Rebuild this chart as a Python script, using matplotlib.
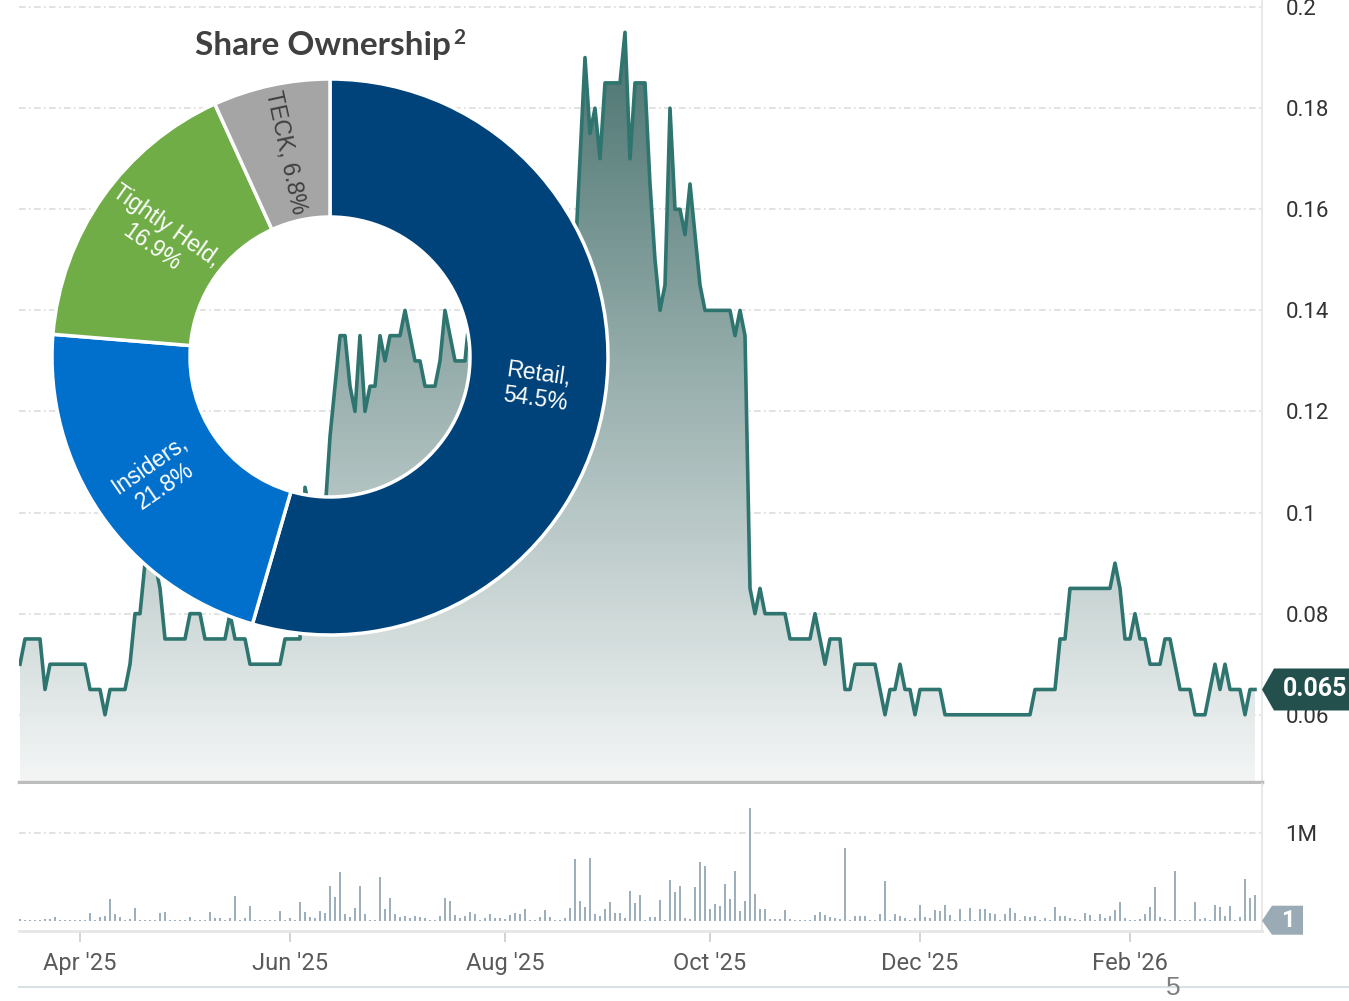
import numpy as np
import pandas as pd
import matplotlib
matplotlib.use("Agg")
import matplotlib.pyplot as plt
from matplotlib.colors import LinearSegmentedColormap
from matplotlib.patches import Polygon
from matplotlib.lines import Line2D
from matplotlib.transforms import IdentityTransform

# --- data -------------------------------------------------------------
# TSX trading days, Mar 14 2025 .. Mar 10 2026
tsx_holidays = ["2025-04-18", "2025-05-19", "2025-07-01", "2025-08-04",
                "2025-09-01", "2025-10-13", "2025-12-25", "2025-12-26",
                "2026-01-01", "2026-02-16"]
start_date = "2025-03-14"
end_date = "2026-03-10"

# daily close (C$)
price = [
    0.07, 0.075, 0.075, 0.075, 0.075, 0.065, 0.07, 0.07, 0.07, 0.07,
    0.07, 0.07, 0.07, 0.07, 0.065, 0.065, 0.065, 0.06, 0.065, 0.065,
    0.065, 0.065, 0.07, 0.08, 0.08, 0.09, 0.095, 0.09, 0.085, 0.075,
    0.075, 0.075, 0.075, 0.075, 0.08, 0.08, 0.08, 0.075, 0.075, 0.075,
    0.075, 0.075, 0.08, 0.075, 0.075, 0.075, 0.07, 0.07, 0.07, 0.07,
    0.07, 0.07, 0.07, 0.075, 0.075, 0.075, 0.075, 0.105, 0.1, 0.1,
    0.1, 0.1, 0.115, 0.125, 0.135, 0.135, 0.125, 0.12, 0.135, 0.12,
    0.125, 0.125, 0.135, 0.13, 0.135, 0.135, 0.135, 0.14, 0.135, 0.13,
    0.13, 0.125, 0.125, 0.125, 0.13, 0.14, 0.135, 0.13, 0.13, 0.13,
    0.14, 0.14, 0.135, 0.135, 0.13, 0.13, 0.13, 0.125, 0.125, 0.13,
    0.13, 0.135, 0.13, 0.13, 0.125, 0.125, 0.13, 0.13, 0.125, 0.125,
    0.13, 0.15, 0.17, 0.19, 0.175, 0.18, 0.17, 0.185, 0.185, 0.185,
    0.185, 0.195, 0.17, 0.185, 0.185, 0.185, 0.165, 0.15, 0.14, 0.145,
    0.18, 0.16, 0.16, 0.155, 0.165, 0.155, 0.145, 0.14, 0.14, 0.14,
    0.14, 0.14, 0.14, 0.135, 0.14, 0.135, 0.085, 0.08, 0.085, 0.08,
    0.08, 0.08, 0.08, 0.08, 0.075, 0.075, 0.075, 0.075, 0.075, 0.08,
    0.075, 0.07, 0.075, 0.075, 0.075, 0.065, 0.065, 0.07, 0.07, 0.07,
    0.07, 0.07, 0.065, 0.06, 0.065, 0.065, 0.07, 0.065, 0.065, 0.06,
    0.065, 0.065, 0.065, 0.065, 0.065, 0.06, 0.06, 0.06, 0.06, 0.06,
    0.06, 0.06, 0.06, 0.06, 0.06, 0.06, 0.06, 0.06, 0.06, 0.06,
    0.06, 0.06, 0.06, 0.065, 0.065, 0.065, 0.065, 0.065, 0.075, 0.075,
    0.085, 0.085, 0.085, 0.085, 0.085, 0.085, 0.085, 0.085, 0.085, 0.09,
    0.085, 0.075, 0.075, 0.08, 0.075, 0.075, 0.07, 0.07, 0.07, 0.075,
    0.075, 0.07, 0.065, 0.065, 0.065, 0.06, 0.06, 0.06, 0.065, 0.07,
    0.065, 0.07, 0.065, 0.065, 0.065, 0.06, 0.065, 0.065,
]

# daily volume (thousand shares)
volume_k = [
    25, 12, 5, 5, 8, 15, 25, 45, 5, 5,
    5, 5, 5, 5, 83, 5, 38, 53, 242, 76,
    45, 12, 25, 140, 5, 10, 8, 5, 91, 102,
    5, 5, 5, 5, 45, 5, 5, 5, 95, 34,
    34, 5, 26, 280, 5, 26, 167, 5, 5, 5,
    5, 5, 114, 5, 26, 5, 216, 102, 45, 34,
    114, 91, 398, 273, 549, 72, 45, 140, 394, 76,
    5, 5, 500, 129, 261, 76, 45, 53, 26, 57,
    45, 26, 10, 10, 53, 254, 223, 64, 34, 53,
    95, 72, 8, 26, 76, 34, 26, 15, 64, 91,
    72, 133, 5, 5, 45, 121, 45, 5, 5, 26,
    140, 697, 223, 159, 716, 72, 57, 129, 216, 91,
    91, 26, 337, 205, 288, 5, 45, 45, 235, 8,
    462, 322, 394, 26, 19, 379, 670, 621, 129, 189,
    167, 417, 242, 564, 110, 223, 1277, 299, 133, 136,
    15, 15, 15, 121, 19, 5, 5, 5, 5, 64,
    102, 64, 45, 34, 19, 822, 8, 57, 57, 53,
    5, 5, 72, 455, 8, 72, 57, 26, 8, 34,
    178, 45, 26, 121, 110, 178, 64, 8, 129, 5,
    148, 5, 129, 129, 91, 76, 5, 72, 140, 91,
    5, 53, 45, 57, 5, 26, 5, 159, 57, 57,
    34, 15, 5, 83, 64, 5, 76, 26, 53, 121,
    216, 26, 5, 5, 15, 72, 159, 379, 45, 15,
    5, 564, 8, 5, 5, 216, 15, 34, 5, 178,
    152, 53, 170, 5, 38, 473, 254, 292,
]

owners = ["Retail", "Insiders", "Tightly Held", "TECK"]
shares = [54.5, 21.8, 16.9, 6.8]
owner_colors = ["#00437A", "#0070CC", "#70AD47", "#A5A5A5"]
owner_text_colors = ["white", "white", "white", "#3F3F3F"]

price_ticks = [0.06, 0.08, 0.1, 0.12, 0.14, 0.16, 0.18, 0.2]
price_tick_labels = ["0.06", "0.08", "0.1", "0.12", "0.14", "0.16", "0.18", "0.2"]
label_months = [4, 6, 8, 10, 12, 2]

# --- figure -----------------------------------------------------------
W, H = 1349, 1001
fig = plt.figure(figsize=(W / 100, H / 100), dpi=100)
plt.rcParams["font.family"] = ["Roboto", "DejaVu Sans"]


def box(x0, y0, x1, y1):
    # pixel box (y measured from the top) -> figure fraction
    return [x0 / W, 1 - y1 / H, (x1 - x0) / W, (y1 - y0) / H]


dates = pd.bdate_range(start_date, end_date, freq="C", holidays=tsx_holidays)
idx = np.arange(len(price))
price = np.array(price)
vol = np.array(volume_k) / 1000.0

ax_p = fig.add_axes(box(19, 0, 1262, 782))
ax_v = fig.add_axes(box(19, 784, 1262, 931))
xlim = (-0.2, 248.4)
ylim_p = (0.0467, 0.2014)

# price area with vertical gradient
cmap = LinearSegmentedColormap.from_list("area", ["#F4F6F6", "#426D69"])
poly = Polygon(np.column_stack([np.r_[idx[0], idx, idx[-1]],
                                np.r_[ylim_p[0], price, ylim_p[0]]]),
               closed=True, fc="none", ec="none")
ax_p.add_patch(poly)
grad = np.linspace(0, 1, 256).reshape(-1, 1)
im = ax_p.imshow(grad, extent=[idx[0], idx[-1], ylim_p[0], ylim_p[1]],
                 origin="lower", aspect="auto", cmap=cmap, zorder=2)
im.set_clip_path(poly)
ax_p.plot(idx, price, color="#2E746F", lw=2.6, solid_joinstyle="round", zorder=3)

ax_p.set_xlim(*xlim)
ax_p.set_ylim(*ylim_p)
ax_p.set_yticks(price_ticks)
ax_p.set_yticklabels(price_tick_labels)
ax_p.yaxis.tick_right()
ax_p.set_xticks([])
ax_p.tick_params(axis="y", length=0, pad=17, labelsize=16, labelcolor="#333333")
ax_p.grid(axis="y", color="#DDDDDD", lw=1.2, linestyle=(0, (4, 2, 1, 2)))
ax_p.set_axisbelow(True)
for s in ["top", "left"]:
    ax_p.spines[s].set_visible(False)
ax_p.spines["right"].set_color("#E6E6E6")
ax_p.spines["right"].set_linewidth(1.3)
ax_p.spines["bottom"].set_color("#BDBDBD")
ax_p.spines["bottom"].set_linewidth(2.5)

# volume
ax_v.bar(idx, vol, width=0.55, color="#9DAFBA", zorder=2)
ax_v.set_xlim(*xlim)
ax_v.set_ylim(-0.117, 1.553)
ax_v.set_yticks([1])
ax_v.set_yticklabels(["1M"])
ax_v.yaxis.tick_right()
month_first = [np.where((dates.month == m))[0][0] for m in label_months]
ax_v.set_xticks(month_first)
ax_v.set_xticklabels([dates[i].strftime("%b '%y") for i in month_first])
ax_v.tick_params(axis="y", length=0, pad=17, labelsize=16, labelcolor="#333333")
ax_v.tick_params(axis="x", length=8, width=1.2, color="#CCCCCC", pad=7,
                 labelsize=17, labelcolor="#5A5A5A")
ax_v.grid(axis="y", color="#DDDDDD", lw=1.2, linestyle=(0, (4, 2, 1, 2)))
ax_v.set_axisbelow(True)
for s in ["top", "left"]:
    ax_v.spines[s].set_visible(False)
for s in ["right", "bottom"]:
    ax_v.spines[s].set_color("#E6E6E6")
ax_v.spines["right"].set_linewidth(1.3)
ax_v.spines["bottom"].set_linewidth(2)

# --- share ownership donut overlay -------------------------------------
ax_d = fig.add_axes([0, 0, 1, 1], facecolor="none")
cx, cy, r_out, ring = 330, H - 357, 278, 138
wedges, _ = ax_d.pie(shares, colors=owner_colors, startangle=90, counterclock=False,
                     radius=r_out, center=(cx, cy),
                     wedgeprops=dict(width=ring, edgecolor="white", linewidth=2.5))
for w, name, val, tc in zip(wedges, owners, shares, owner_text_colors):
    th = (w.theta1 + w.theta2) / 2
    r_lab = r_out - ring / 2
    x = cx + r_lab * np.cos(np.radians(th))
    y = cy + r_lab * np.sin(np.radians(th))
    rot = ((th + 90) % 180) - 90
    if name == "TECK":
        txt = f"{name}, {val}%"
    else:
        txt = f"{name},\n{val}%"
    ax_d.text(x, y, txt, ha="center", va="center", rotation=rot,
              rotation_mode="anchor", fontsize=16.5, color=tc,
              family=["Liberation Sans", "DejaVu Sans"], linespacing=1.15,
              multialignment="center")
ax_d.set_xlim(0, W)
ax_d.set_ylim(0, H)
ax_d.axis("off")

title = fig.text(323 / W, 1 - 46 / H, "Share Ownership", ha="center", va="center",
                 fontsize=24, fontweight="bold", color="#404040",
                 family=["Lato", "DejaVu Sans"])

# page footer
fig.add_artist(Line2D([19 / W, 1], [1 - 987 / H] * 2, color="#D8E2E5", lw=1.5))
fig.text(1173 / W, 1 - 1000 / H, "5", ha="center", va="bottom", fontsize=19,
         color="#7F7F7F", family=["Liberation Sans", "DejaVu Sans"])

# --- callouts ----------------------------------------------------------
fig.canvas.draw()
bb = title.get_window_extent()
fig.text(bb.x1 + 2, bb.y1 - 16, "2", ha="left", va="bottom", fontsize=15,
         fontweight="bold", color="#404040", family=["Lato", "DejaVu Sans"],
         transform=IdentityTransform())

x_edge = ax_p.transAxes.transform((1, 0))[0]
_, y_last = ax_p.transData.transform((idx[-1], price[-1]))
fig.add_artist(Polygon([(x_edge, y_last), (x_edge + 12, y_last + 21),
                        (x_edge + 110, y_last + 21), (x_edge + 110, y_last - 21),
                        (x_edge + 12, y_last - 21)], closed=True, fc="#23504D",
                       ec="none", transform=IdentityTransform()))
fig.text(x_edge + 21, y_last, f"{price[-1]:.3f}", ha="left", va="center",
         fontsize=18, fontweight="bold", color="white", transform=IdentityTransform())

_, y_v = ax_v.transData.transform((idx[-1], 0.0))
fig.add_artist(Polygon([(x_edge, y_v), (x_edge + 10, y_v + 15),
                        (x_edge + 41, y_v + 15), (x_edge + 41, y_v - 14),
                        (x_edge + 10, y_v - 14)], closed=True, fc="#9AABB6",
                       ec="none", transform=IdentityTransform()))
fig.text(x_edge + 26, y_v, "1", ha="center", va="center", fontsize=17,
         fontweight="bold", color="white", transform=IdentityTransform())

fig.savefig("out.png", dpi=100)
